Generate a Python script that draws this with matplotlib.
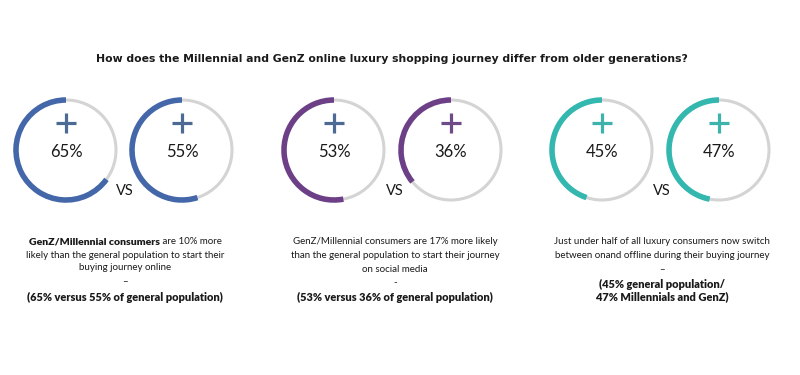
import matplotlib
matplotlib.use("Agg")
import matplotlib.pyplot as plt
from matplotlib.patches import Arc

# ---- data ----
percent_values = [65, 55, 53, 36, 45, 47]
percent_labels = ["65%", "55%", "53%", "36%", "45%", "47%"]
ring_colors = ["#4467A9", "#4467A9", "#6C3F87", "#6C3F87", "#33B7AF", "#33B7AF"]
plus_colors = ["#4C6A93", "#4C6A93", "#4C6A93", "#6E4A88", "#3DB3AC", "#3DB3AC"]
title = "How does the Millennial and GenZ online luxury shopping journey differ from older generations?"
panel_lines = [
    [("GenZ/Millennial consumers", " are 10% more"),
     "likely than the general population to start their",
     "buying journey online", "\u2013",
     ("(65% versus 55% of general population)",)],
    ["GenZ/Millennial consumers are 17% more likely",
     "than the general population to start their journey",
     "on social media", "-",
     ("(53% versus 36% of general population)",)],
    ["Just under half of all luxury consumers now switch",
     "between onand offline during their buying journey",
     "\u2013",
     ("(45% general population/",),
     ("47% Millennials and GenZ)",)],
]

# ---- layout (pixels) ----
W, H = 800, 375
ring_x = [66, 182, 334, 451, 602, 719]
ring_y = 150
ring_r = 50
vs_x = [125, 395, 662]
vs_y = 190
panel_cx = [125, 395, 662]
line_y = [
    [242, 255, 268, 282, 297],
    [242, 255, 269, 283, 297],
    [242, 256, 270, 284, 297],
]

FONT = ["Lato", "DejaVu Sans"]
INK = "#1a1a1a"

fig = plt.figure(figsize=(8, 3.75), dpi=100)
ax = fig.add_axes([0, 0, 1, 1])
ax.set_xlim(0, W)
ax.set_ylim(0, H)
ax.axis("off")

def Y(y):
    return H - y

for i, pct in enumerate(percent_values):
    cx, cy = ring_x[i], Y(ring_y)
    ax.add_patch(Arc((cx, cy), 2 * ring_r, 2 * ring_r, theta1=0, theta2=360,
                     color="#D4D4D4", lw=2.2))
    ax.add_patch(Arc((cx, cy), 2 * ring_r, 2 * ring_r, theta1=90,
                     theta2=90 + pct * 3.6, color=ring_colors[i], lw=4.0))
    py = Y(123)
    ax.plot([cx - 10, cx + 10], [py, py], color=plus_colors[i], lw=2.3,
            solid_capstyle="butt")
    ax.plot([cx, cx], [py - 10, py + 10], color=plus_colors[i], lw=2.3,
            solid_capstyle="butt")
    ax.text(cx, Y(152), percent_labels[i], ha="center", va="center",
            fontsize=12, color=INK, family=FONT, fontweight="normal")

for x in vs_x:
    ax.text(x, Y(vs_y + 1), "VS", ha="center", va="center", fontsize=10.5,
            color=INK, family=FONT)

fig.canvas.draw()
renderer = fig.canvas.get_renderer()

def fit(t, target):
    w = t.get_window_extent(renderer).width
    t.set_fontsize(t.get_fontsize() * target / w)

tt = ax.text(392, Y(59), title, ha="center", va="center", fontsize=8,
             fontweight="bold", color=INK, family="DejaVu Sans")
fit(tt, 591)

BOLD_SCALE = 1.13
for p, lines in enumerate(panel_lines):
    cx = panel_cx[p]
    for j, ln in enumerate(lines):
        y = Y(line_y[p][j])
        if isinstance(ln, tuple) and len(ln) == 2:
            tb = ax.text(0, y, ln[0], ha="left", va="center", fontsize=7 * 1.08,
                         fontweight="heavy", color=INK, family=FONT)
            tr = ax.text(0, y, ln[1], ha="left", va="center", fontsize=7,
                         color=INK, family=FONT)
            wb = tb.get_window_extent(renderer).width
            wr = tr.get_window_extent(renderer).width
            x0 = cx - (wb + wr) / 2
            tb.set_x(x0)
            tr.set_x(x0 + wb)
        elif isinstance(ln, tuple):
            ax.text(cx, y, ln[0], ha="center", va="center",
                    fontsize=7 * BOLD_SCALE, fontweight="heavy", color=INK,
                    family=FONT)
        else:
            ax.text(cx, y, ln, ha="center", va="center", fontsize=7,
                    color=INK, family=FONT)

fig.savefig("out.png", dpi=100, facecolor="white")
